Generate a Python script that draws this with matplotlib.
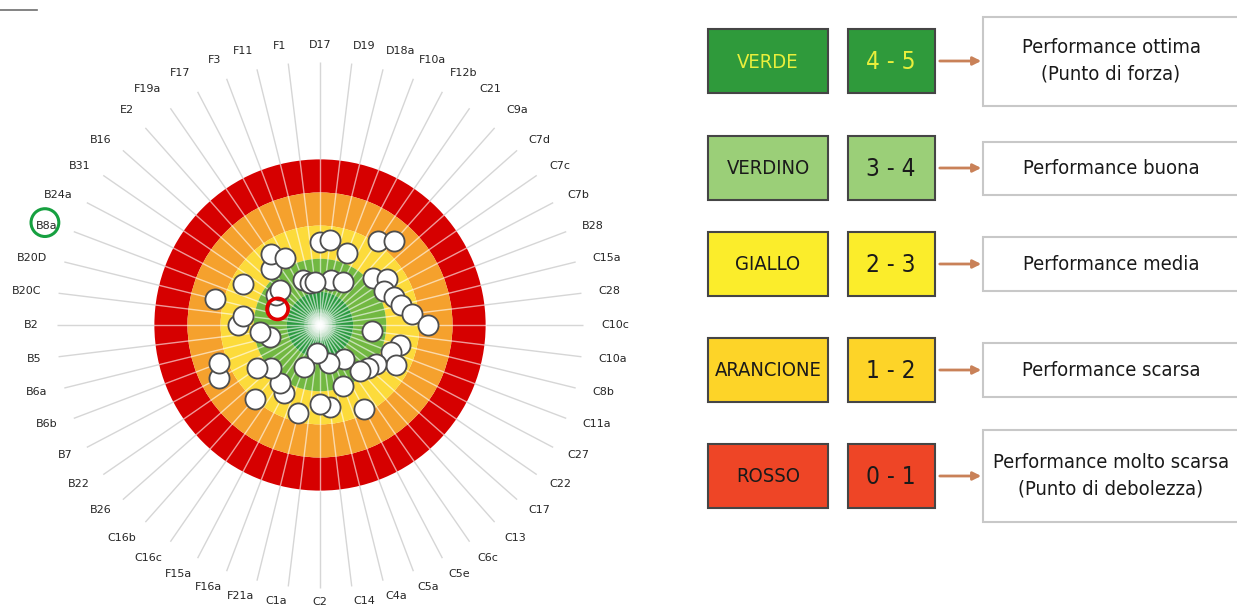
import numpy as np
import matplotlib
matplotlib.use("Agg")
import matplotlib.pyplot as plt
from matplotlib.patches import Rectangle
from matplotlib.transforms import offset_copy

# ── data ───────────────────────────────────────────────────────────────────────
labels = ["D17", "D19", "D18a", "F10a", "F12b", "C21", "C9a", "C7d", "C7c", "C7b",
          "B28", "C15a", "C28", "C10c", "C10a", "C8b", "C11a", "C27", "C22", "C17",
          "C13", "C6c", "C5e", "C5a", "C4a", "C14", "C2", "C1a", "F21a", "F16a",
          "F15a", "C16c", "C16b", "B26", "B22", "B7", "B6b", "B6a", "B5", "B2",
          "B20C", "B20D", "B8a", "B24a", "B31", "B16", "E2", "F19a", "F17", "F3",
          "F11", "F1"]
scores = [2.50, 2.42, 3.61, 2.68, 3.53, 1.92, 1.63, 2.87, 2.54, 2.82,
          2.62, 2.47, 2.21, 1.75, 3.42, 2.52, 2.72, 2.41, 2.93, 3.06,
          3.16, 3.74, 2.13, 3.02, 3.83, 2.52, 2.62, 4.14, 2.26, 3.64,
          2.67, 2.89, 2.02, 3.03, 2.70, 1.55, 1.73, 3.45, 3.18, 2.53,
          2.65, 1.75, 3.63, 2.36, 3.39, 3.40, 2.76, 2.39, 2.70, 3.54,
          3.70, 3.70]
highlight = "B8a"

band_lo = [0, 1, 2, 3, 4]
band_colors = ["#d60000", "#f5a12d", "#fcdb3b", "#72b842", "#2b9a40"]

legend_names = ["VERDE", "VERDINO", "GIALLO", "ARANCIONE", "ROSSO"]
legend_ranges = ["4 - 5", "3 - 4", "2 - 3", "1 - 2", "0 - 1"]
legend_desc = ["Performance ottima\n(Punto di forza)", "Performance buona",
               "Performance media", "Performance scarsa",
               "Performance molto scarsa\n(Punto di debolezza)"]
legend_fill = ["#2f9a3b", "#9bcf78", "#fbed2b", "#fdd428", "#ee4526"]
legend_txt = ["#e9ef3c", "#1a1a1a", "#1a1a1a", "#1a1a1a", "#1a1a1a"]

# ── figure ────────────────────────────────────────────────────────────────────
W, H = 1237, 608
fig = plt.figure(figsize=(W / 100, H / 100), dpi=100)
fig.patch.set_facecolor("white")

ax = fig.add_axes([55 / W, (H - 325 - 265) / H, 530 / W, 530 / H], projection="polar")
ax.set_theta_zero_location("N")
ax.set_theta_direction(-1)
ax.set_ylim(5, -3)
ax.set_axis_off()

theta = np.arange(len(labels)) * 2 * np.pi / len(labels)

# coloured bands (5 = centre, 0 = outer edge)
for lo, c in zip(band_lo, band_colors):
    ax.bar(0, 1, width=2 * np.pi, bottom=lo, color=c, linewidth=0, zorder=1)

# central glow
ax.scatter([0] * 4, [5] * 4, s=[520, 320, 160, 60], color="#f2f2f2",
           alpha=0.25, linewidth=0, zorder=2)

# spokes
ax.vlines(theta, 5, 0, colors="white", alpha=0.6, linewidth=1, zorder=3)
ax.vlines(theta, 0, -2.95, colors="#d6d6d6", linewidth=1, zorder=3)

# points
ax.scatter(theta, scores, s=210, facecolor="white", edgecolor="#4d4d4d",
           linewidth=1.3, zorder=5)
hi = labels.index(highlight)
ax.scatter(theta[hi], scores[hi], s=230, facecolor="none", edgecolor="#e00000",
           linewidth=2.6, zorder=6)

# category labels
lab_r = []
for t, lab in zip(theta, labels):
    s, c = np.sin(t), np.cos(t)
    ha = "left" if s > 0.1 else ("right" if s < -0.1 else "center")
    va = "bottom" if c > 0.7 else ("top" if c < -0.7 else "center")
    r = -3.2 - 0.28 * abs(s) - (0.1 if c > 0.7 else 0.0)
    lab_r.append(r)
    ax.text(t, r, lab, ha=ha, va=va, fontsize=8, color="#262626",
            clip_on=False)

ax.scatter(theta[hi], lab_r[hi], s=400, facecolor="none", edgecolor="#16a040",
           linewidth=2.2, clip_on=False, zorder=6,
           transform=offset_copy(ax.transData, fig=fig, x=-13, y=3, units="dots"))

# ── legend panel ──────────────────────────────────────────────────────────────
lg = fig.add_axes([0, 0, 1, 1], zorder=-1)
lg.set_xlim(0, W)
lg.set_ylim(H, 0)
lg.set_axis_off()
lg.plot([0, 37], [10, 10], color="#6e6e6e", lw=1.2)

cond = dict(family=["Liberation Sans Narrow", "DejaVu Sans"], fontstretch="condensed")
row_y = [61, 168, 264, 370, 476]
desc_h = [89, 53, 54, 54, 92]
for y, nm, rg, ds, fc, tc, dh in zip(row_y, legend_names, legend_ranges, legend_desc,
                                     legend_fill, legend_txt, desc_h):
    lg.add_patch(Rectangle((708, y - 32), 120, 64, facecolor=fc, edgecolor="#454545", lw=1.5))
    lg.add_patch(Rectangle((848, y - 32), 87, 64, facecolor=fc, edgecolor="#454545", lw=1.5))
    lg.text(768, y + 1, nm, ha="center", va="center", fontsize=14.5, color=tc, **cond)
    lg.text(891, y + 1, rg, ha="center", va="center", fontsize=17.5, color=tc, **cond)
    lg.annotate("", xy=(984, y), xytext=(937, y),
                arrowprops=dict(arrowstyle="-|>", color="#c98158", lw=2, mutation_scale=12))
    lg.add_patch(Rectangle((983, y - dh / 2), 262, dh, facecolor="white",
                           edgecolor="#c8c8c8", lw=1.5))
    lg.text(1111, y, ds, ha="center", va="center", fontsize=14.5, color="#1a1a1a",
            linespacing=1.5, **cond)

fig.savefig("out.png", dpi=100)
